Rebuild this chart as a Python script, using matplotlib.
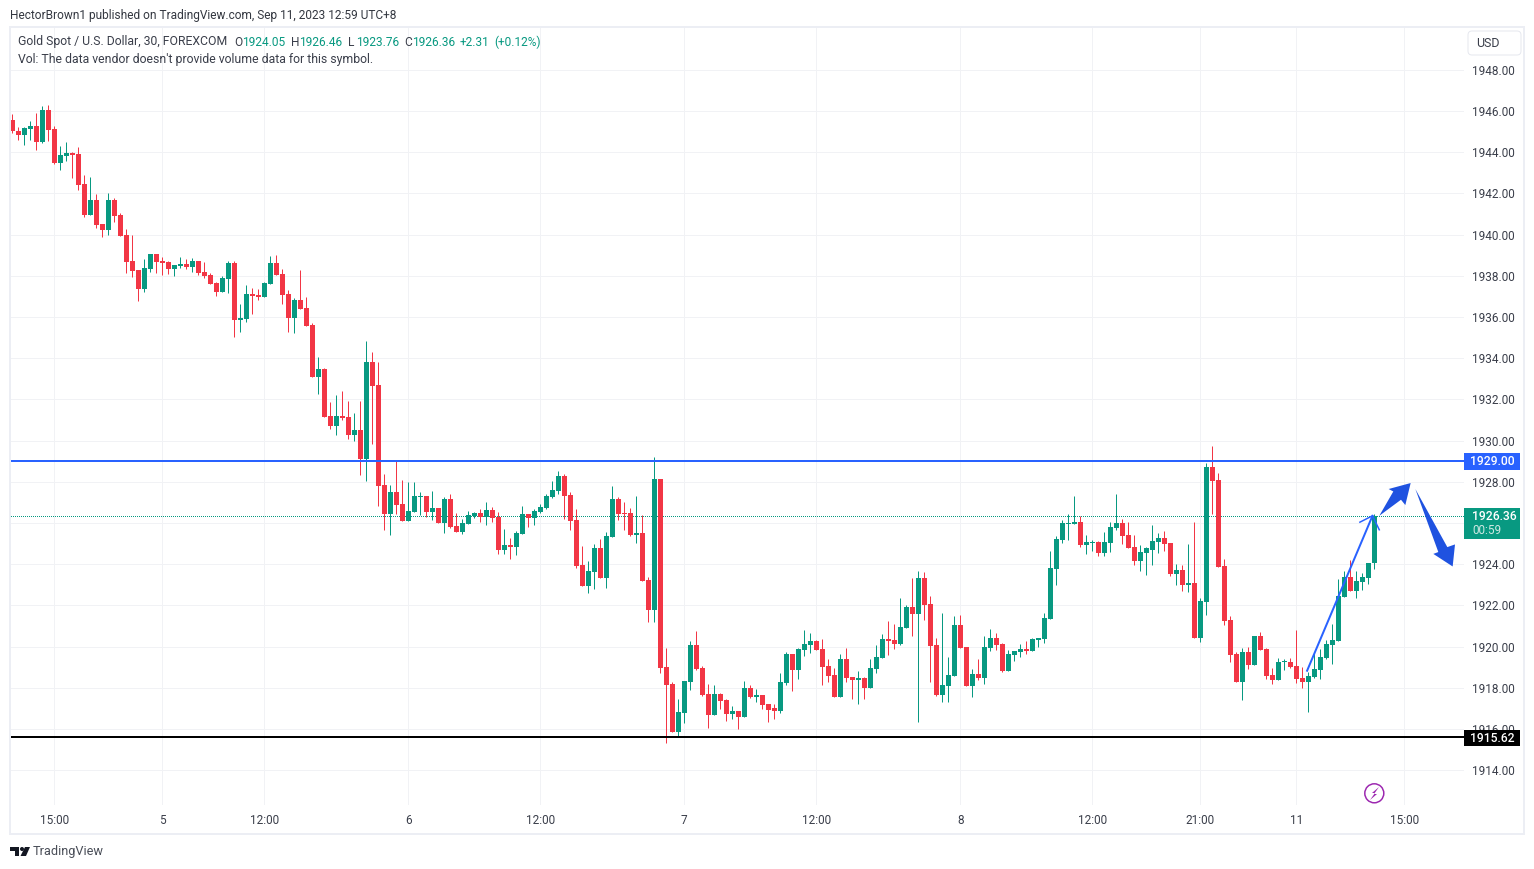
import numpy as np
import matplotlib
matplotlib.use("Agg")
import matplotlib.pyplot as plt
from matplotlib.patches import Rectangle, FancyBboxPatch, Circle, Polygon
from matplotlib.transforms import Affine2D

# XAUUSD 30 min candles
opens = [1945.58,1945.04,1944.85,1945.14,1945.29,1944.51,1946.06,1945.14,1943.49,1943.83,
1943.97,1943.93,1942.47,1940.96,1941.69,1940.53,1940.24,1941.69,1940.96,1940.0,
1938.73,1938.3,1937.37,1938.34,1939.07,1938.73,1938.68,1938.34,1938.49,1938.59,
1938.44,1938.73,1938.2,1938.05,1937.66,1937.23,1937.86,1938.64,1935.87,1935.92,
1937.13,1937.08,1936.98,1937.62,1938.64,1938.1,1937.13,1935.97,1936.84,1936.45,
1935.63,1933.1,1933.49,1931.21,1930.73,1931.21,1931.16,1930.29,1930.53,1929.12,
1933.83,1932.72,1927.86,1926.45,1927.51,1926.93,1926.1,1926.54,1927.27,1927.32,
1926.54,1926.73,1926.0,1927.17,1925.86,1925.57,1925.96,1926.35,1926.49,1926.3,
1926.64,1926.3,1924.7,1924.94,1924.84,1925.47,1926.44,1926.25,1926.54,1926.73,
1927.27,1927.56,1928.29,1927.37,1926.15,1923.97,1922.95,1923.63,1924.79,1923.34,
1925.33,1927.17,1926.49,1926.49,1925.42,1925.52,1923.24,1921.78,1928.14,1919.02,
1918.19,1915.86,1916.78,1918.29,1920.08,1918.97,1917.71,1916.69,1917.71,1917.41,
1916.73,1916.88,1916.59,1918.0,1917.56,1917.66,1917.22,1917.01,1916.86,1918.22,
1919.63,1918.85,1919.82,1920.06,1920.26,1919.87,1919.05,1918.61,1917.54,1919.39,
1918.51,1918.37,1918.46,1917.98,1918.9,1919.43,1920.36,1920.31,1920.11,1920.89,
1921.91,1921.57,1923.32,1922.06,1920.07,1917.64,1918.07,1918.56,1921.03,1919.97,
1918.07,1918.65,1918.46,1919.92,1920.4,1920.11,1918.8,1919.58,1919.72,1919.87,
1919.77,1920.3,1920.35,1921.32,1923.75,1925.16,1925.94,1925.94,1926.03,1924.92,
1925.05,1925.06,1924.53,1925.01,1925.74,1925.98,1925.4,1924.82,1924.14,1924.53,
1924.7,1925.09,1925.28,1925.04,1923.53,1923.73,1923.0,1923.1,1920.43,1922.18,
1928.73,1928.1,1923.92,1921.3,1919.65,1918.29,1919.75,1919.12,1920.53,1919.89,
1918.63,1918.39,1919.25,1919.26,1919.07,1918.49,1918.29,1918.53,1918.87,1919.46,
1920.09,1920.28,1922.42,1923.39,1922.71,1923.15,1923.34,1924.05]
highs = [1945.87,1945.24,1945.24,1945.53,1945.92,1946.26,1946.30,1945.29,1944.31,1944.51,
1944.02,1944.27,1942.91,1942.81,1941.98,1940.53,1942.03,1941.79,1941.06,1940.29,
1940.0,1938.3,1938.83,1939.07,1939.07,1938.93,1938.73,1938.54,1938.93,1938.83,
1938.88,1938.73,1938.69,1938.15,1937.71,1938.01,1938.73,1938.73,1936.65,1937.57,
1937.42,1937.38,1937.71,1938.98,1939.03,1938.35,1937.33,1936.94,1938.3,1936.99,
1935.73,1934.08,1933.54,1931.89,1932.23,1932.43,1931.94,1931.36,1931.94,1934.85,
1934.32,1933.83,1928.4,1927.86,1929.02,1928.09,1927.99,1927.99,1927.51,1927.32,
1927.56,1926.73,1927.27,1927.41,1926.49,1926.2,1926.59,1926.54,1926.69,1927.03,
1926.78,1926.54,1925.71,1925.28,1925.62,1926.83,1926.44,1926.69,1926.93,1927.41,
1928.05,1928.53,1928.38,1927.51,1926.69,1924.89,1924.16,1924.99,1925.23,1925.57,
1927.8,1927.27,1927.03,1926.73,1927.32,1926.39,1923.38,1929.21,1928.14,1919.94,
1918.29,1917.46,1918.34,1920.28,1920.76,1919.06,1918.19,1918.14,1917.75,1917.46,
1917.12,1916.88,1918.34,1918.14,1917.95,1917.66,1917.22,1917.2,1918.71,1919.73,
1919.63,1919.92,1920.79,1920.65,1920.31,1920.36,1919.39,1918.95,1919.63,1919.92,
1918.51,1918.8,1918.51,1919.39,1920.07,1920.6,1921.23,1921.08,1922.35,1922.01,
1923.32,1923.66,1923.61,1922.44,1920.41,1921.62,1919.48,1921.47,1921.52,1919.97,
1918.9,1919.38,1920.5,1920.84,1920.64,1920.16,1919.82,1919.77,1920.11,1920.26,
1920.4,1920.4,1921.62,1924.62,1925.35,1926.13,1926.42,1927.29,1926.32,1925.4,
1925.16,1925.11,1925.55,1926.03,1927.39,1926.18,1926.03,1925.4,1924.92,1924.82,
1925.91,1925.53,1925.62,1925.04,1924.02,1923.97,1924.99,1926.06,1922.37,1928.92,
1929.75,1928.44,1924.26,1921.5,1919.75,1919.94,1920.0,1920.53,1920.72,1919.94,
1918.97,1919.46,1919.41,1919.46,1920.82,1919.02,1918.78,1919.75,1919.89,1920.33,
1921.11,1923.29,1923.68,1924.21,1923.68,1923.58,1924.07,1926.46]
lows = [1944.95,1944.61,1944.36,1944.61,1944.12,1944.46,1944.56,1943.44,1943.15,1943.59,
1942.76,1942.18,1940.87,1940.96,1940.33,1939.90,1939.99,1940.62,1939.95,1938.15,
1937.96,1936.79,1937.23,1938.2,1938.15,1938.05,1938.1,1938.0,1938.39,1938.34,
1938.2,1938.05,1937.9,1937.61,1937.03,1937.23,1937.18,1935.05,1935.29,1935.77,
1936.16,1936.84,1936.98,1937.62,1938.06,1936.65,1935.29,1935.24,1936.41,1935.58,
1933.1,1932.28,1931.16,1930.58,1930.29,1931.02,1930.1,1930.0,1928.35,1928.06,
1929.85,1926.84,1925.68,1925.43,1926.44,1926.1,1926.1,1926.54,1926.39,1926.3,
1926.15,1926.0,1925.52,1925.76,1925.57,1925.47,1925.96,1926.25,1926.05,1925.91,
1926.05,1924.5,1924.5,1924.26,1924.45,1925.47,1925.81,1925.91,1926.49,1926.69,
1927.22,1927.41,1926.2,1925.67,1923.82,1922.95,1922.61,1922.8,1923.34,1922.85,
1925.33,1926.15,1925.67,1925.38,1925.04,1923.19,1921.2,1921.2,1918.72,1915.33,
1915.86,1915.62,1916.3,1917.9,1918.87,1917.61,1916.06,1916.69,1916.98,1916.39,
1916.49,1916.0,1916.59,1917.51,1917.32,1916.98,1916.35,1916.47,1916.76,1918.12,
1917.83,1918.41,1919.53,1919.68,1919.82,1918.12,1918.27,1917.54,1917.54,1918.27,
1917.44,1917.2,1917.44,1917.98,1918.71,1919.43,1919.58,1919.87,1920.07,1920.89,
1920.5,1916.33,1921.28,1918.27,1917.59,1917.3,1917.3,1918.56,1919.92,1918.07,
1917.54,1918.36,1918.17,1919.77,1919.82,1918.75,1918.8,1919.28,1919.48,1919.62,
1919.77,1919.96,1920.16,1921.32,1922.97,1925.01,1925.16,1925.94,1924.82,1924.48,
1924.62,1924.38,1924.38,1924.58,1925.64,1924.96,1924.77,1923.95,1923.65,1923.46,
1923.97,1924.55,1924.65,1923.44,1923.0,1922.71,1922.66,1920.43,1920.23,1921.54,
1926.45,1923.87,1921.06,1919.26,1918.29,1917.42,1918.92,1919.12,1919.85,1918.44,
1918.2,1918.39,1918.87,1918.97,1918.24,1918.0,1916.84,1918.49,1918.44,1919.41,
1919.17,1920.28,1922.42,1922.71,1922.37,1922.76,1923.05,1923.76]
closes = [1945.01,1944.85,1945.19,1945.29,1944.51,1946.06,1945.09,1943.49,1943.88,1943.97,
1943.88,1942.42,1940.96,1941.69,1940.48,1940.24,1941.69,1940.92,1939.95,1938.68,
1938.25,1937.37,1938.39,1939.07,1938.68,1938.63,1938.34,1938.54,1938.59,1938.44,
1938.73,1938.15,1938.0,1937.61,1937.23,1937.91,1938.64,1935.87,1935.97,1937.13,
1937.03,1936.98,1937.67,1938.64,1938.06,1937.08,1935.97,1936.84,1936.41,1935.58,
1933.1,1933.49,1931.16,1930.73,1931.21,1931.11,1930.29,1930.53,1929.12,1933.83,
1932.67,1927.81,1926.45,1927.52,1926.88,1926.1,1926.59,1927.32,1927.32,1926.54,
1926.73,1926.0,1927.17,1925.81,1925.57,1926.0,1926.39,1926.49,1926.3,1926.64,
1926.25,1924.7,1924.94,1924.84,1925.52,1926.44,1926.25,1926.59,1926.78,1927.32,
1927.61,1928.29,1927.32,1926.1,1923.92,1922.95,1923.68,1924.79,1923.34,1925.38,
1927.17,1926.44,1926.44,1925.42,1925.52,1923.19,1921.78,1928.14,1918.97,1918.14,
1915.86,1916.83,1918.34,1920.08,1918.92,1917.66,1916.69,1917.71,1917.37,1916.73,
1916.88,1916.59,1918.0,1917.56,1917.66,1917.17,1916.93,1916.86,1918.27,1919.63,
1918.85,1919.87,1920.11,1920.26,1919.82,1919.0,1918.56,1917.54,1919.39,1918.46,
1918.37,1918.46,1917.98,1918.95,1919.48,1920.36,1920.26,1920.11,1920.94,1921.91,
1921.57,1923.32,1922.01,1920.02,1917.64,1918.12,1918.61,1921.04,1919.92,1918.07,
1918.65,1918.46,1919.97,1920.4,1920.06,1918.8,1919.62,1919.77,1919.87,1919.77,
1920.35,1920.4,1921.37,1923.8,1925.21,1925.98,1925.98,1926.03,1924.92,1925.06,
1925.1,1924.53,1925.06,1925.79,1925.98,1925.35,1924.77,1924.14,1924.58,1924.77,
1925.14,1925.28,1925.0,1923.53,1923.73,1923.0,1923.1,1920.43,1922.22,1928.73,
1928.05,1923.87,1921.25,1919.6,1918.29,1919.75,1919.12,1920.53,1919.85,1918.58,
1918.39,1919.26,1919.3,1919.02,1918.44,1918.29,1918.58,1918.92,1919.5,1920.14,
1920.33,1922.47,1923.39,1922.71,1923.2,1923.39,1924.07,1926.36]

time_ticks = [7, 25, 42, 66, 88, 112, 134, 158, 180, 198, 214, 232]
time_labels = ["15:00", "5", "12:00", "6", "12:00", "7", "12:00", "8", "12:00", "21:00", "11", "15:00"]
price_ticks = list(range(1914, 1950, 2))

resistance = 1929.00
support = 1915.62
last_price = 1926.36

# trend line and the two hand drawn arrows (bar index, price)
trend_x = [215.8, 226.7]
trend_y = [1918.83, 1926.35]
head_x = [224.6, 226.7, 227.83]
head_y = [1926.04, 1926.35, 1925.67]
up_x = [227.83, 230.17, 229.39, 233.06, 232.17, 231.45]
up_y = [1926.35, 1927.53, 1927.65, 1927.94, 1926.87, 1927.13]
down_x = [233.84, 239.17, 240.45, 240.06, 236.84, 237.67]
down_y = [1927.65, 1924.83, 1924.96, 1923.89, 1924.5, 1924.59]

GREEN = "#089981"
RED = "#f23645"
BLUE = "#2962ff"
ARROW = "#1f52e0"
GRID = "#f1f2f5"
TXT = "#3a3e4a"
FONT = "Roboto"
PX = 1 / 100 * 72  # one pixel in points

W, H = 1534, 869
plt.rcParams["font.family"] = FONT
fig = plt.figure(figsize=(W / 100, H / 100), dpi=100, facecolor="white")
px = Affine2D().scale(1 / W, -1 / H).translate(0, 1) + fig.transFigure

L, R, T, B = 11, 1464, 28, 805
ax = fig.add_axes([L / W, 1 - B / H, (R - L) / W, (B - T) / H])
ax.set_xlim((L - 12.3) / 6, (R - 12.3) / 6)
ax.set_ylim(1948 - (B - 69.8) / 20.6, 1948 - (T - 69.8) / 20.6)
for s in ax.spines.values():
    s.set_visible(False)

ax.set_axisbelow(True)
ax.grid(True, color=GRID, lw=PX)
ax.set_xticks(time_ticks)
ax.set_xticklabels(time_labels)
ax.set_yticks(price_ticks)
ax.set_yticklabels(["%.2f" % p for p in price_ticks])
ax.yaxis.tick_right()
ax.tick_params(length=0, labelsize=8.5, labelcolor=TXT)
ax.tick_params(axis="x", pad=6.4)
ax.tick_params(axis="y", pad=5.8)

idx = np.arange(len(opens))
o, h, l, c = map(np.array, (opens, highs, lows, closes))
cols = np.where(c >= o, GREEN, RED)

ax.axhline(last_price, color=GREEN, lw=PX, ls=(0, (1, 2)), antialiased=False, zorder=2)
ax.vlines(idx, l, h, colors=cols, lw=PX, zorder=3)
ax.bar(idx, np.maximum(np.abs(c - o), 0.05), bottom=np.minimum(o, c), width=5 / 6, color=cols, lw=0, zorder=4)

ax.axhline(resistance, color=BLUE, lw=2 * PX, zorder=5)
ax.axhline(support, color="black", lw=2 * PX, zorder=5)
ax.plot(trend_x, trend_y, color=BLUE, lw=2 * PX, zorder=5)
ax.plot(head_x, head_y, color=BLUE, lw=1.5 * PX, zorder=5)
ax.fill(up_x, up_y, color=ARROW, lw=0, zorder=6)
ax.fill(down_x, down_y, color=ARROW, lw=0, zorder=6)

# outer frame
fig.add_artist(Rectangle((10, 27), 1514, 807, transform=px, fill=False, ec="#eceef4", lw=2 * PX, zorder=5))


def label_box(y0, y1, color):
    fig.add_artist(Rectangle((1464, y0), 56, y1 - y0, transform=px, fc=color, ec="none", zorder=6))


def put(x, y, s, color=TXT, size=8.6, ha="left", **kw):
    fig.text(x, y, s, transform=px, color=color, fontsize=size, ha=ha, va="center", zorder=7, **kw)


label_box(453, 470, BLUE)
put(1492, 461.5, "%.2f" % resistance, "white", size=8.7, ha="center", fontweight="medium")
label_box(508, 539, GREEN)
put(1472, 517, "%.2f" % last_price, "white", size=8.7, fontweight="medium")
put(1472, 531, "00:59", "#cfe9e3", size=8.5)
label_box(730, 746, "black")
put(1492, 738, "%.2f" % support, "white", size=8.7, ha="center", fontweight="medium")

# USD button
fig.add_artist(FancyBboxPatch((1471, 34), 47, 18, boxstyle="round,pad=3,rounding_size=4", transform=px,
                              fc="white", ec="#e6e8ef", lw=PX, zorder=6))
put(1488, 43.5, "USD", size=8.9, ha="center")

# header and legend
put(10, 15, "HectorBrown1 published on TradingView.com, Sep 11, 2023 12:59 UTC+8", "#333740", size=8.6)
put(18, 42, "Gold Spot / U.S. Dollar, 30, FOREXCOM", size=8.8)
put(18, 59, "Vol: The data vendor doesn't provide volume data for this symbol.", size=8.8)
for x, s in [(234, "O"), (291, "H"), (348, "L"), (404, "C")]:
    put(x, 42, s)
for x, s in [(242, "1924.05"), (299, "1926.46"), (356, "1923.76"), (412, "1926.36"), (460, "+2.31"), (494, "(+0.12%)")]:
    put(x, 42, s, GREEN)

# flash icon
PURPLE = "#9c27b0"
fig.add_artist(Circle((1374.3, 793.3), 9.5, transform=px, fill=False, ec=PURPLE, lw=1.5 * PX, zorder=6))
fig.add_artist(Polygon([(1379, 787), (1372, 793), (1375, 793), (1370, 800), (1377, 794), (1374, 794)],
                       transform=px, fc=PURPLE, ec="none", zorder=6))

# TradingView logo
LOGO = "#131722"
fig.add_artist(Polygon([(10, 847), (19, 847), (19, 856), (15, 856), (15, 851), (10, 851)], transform=px, fc=LOGO, ec="none"))
fig.add_artist(Circle((22, 849), 2, transform=px, fc=LOGO, ec="none"))
fig.add_artist(Polygon([(25, 847), (30, 847), (26, 856), (20.5, 856)], transform=px, fc=LOGO, ec="none"))
put(33, 852, "TradingView", "#4a4e58", size=9.2)

fig.savefig("out.png", dpi=100)
